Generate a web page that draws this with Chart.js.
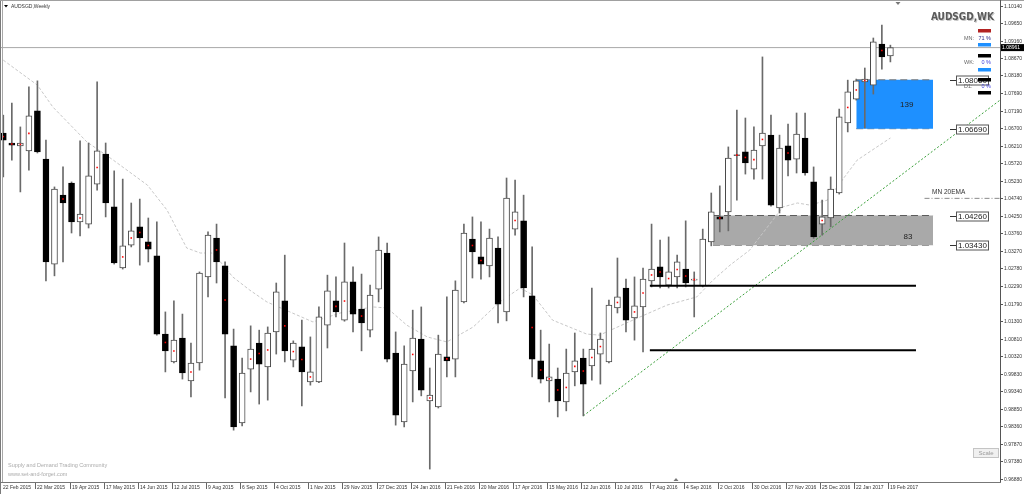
<!DOCTYPE html>
<html>
<head>
<meta charset="utf-8">
<script src="https://cdn.jsdelivr.net/npm/chart.js@4.4.1/dist/chart.umd.min.js"></script>
<style>
html, body { margin: 0; padding: 0; background: #fff; overflow: hidden; }
canvas { display: block; }
</style>
</head>
<body>
<canvas id="chart" width="1024" height="494"></canvas>
<script>
// weekly AUDSGD candles, 22 Feb 2015 .. 19 Feb 2017 (105 weeks)
const opens = [1.0657,1.0629,1.0621,1.0607,1.0719,1.0584,1.0290,1.0483,1.0517,1.0408,
  1.0402,1.0514,1.0598,1.0450,1.0279,1.0343,1.0394,1.0352,1.0313,1.0094,
  1.0016,1.0083,0.9963,1.0013,1.0254,1.0363,1.0285,1.0061,0.9845,0.9996,
  1.0069,1.0002,1.0100,1.0187,1.0021,1.0058,0.9960,0.9960,1.0119,1.0187,
  1.0133,1.0240,1.0164,1.0105,1.0220,1.0321,1.0041,0.9848,0.9991,1.0080,
  0.9907,0.9890,1.0030,1.0024,1.0184,1.0360,1.0310,1.0285,1.0335,1.0156,
  1.0388,1.0411,1.0201,1.0019,0.9963,0.9968,0.9904,0.9988,1.0027,1.0005,
  1.0038,1.0016,1.0167,1.0223,1.0139,1.0170,1.0243,1.0282,1.0231,1.0254,
  1.0276,1.0245,1.0229,1.0352,1.0422,1.0436,1.0596,1.0604,1.0556,1.0621,
  1.0651,1.0447,1.0621,1.0584,1.0643,1.0520,1.0402,1.0419,1.0489,1.0685,
  1.0752,1.0800,1.0791,1.0906,1.0873];
const highs = [1.0707,1.0741,1.0674,1.0786,1.0803,1.0637,1.0506,1.0562,1.0520,1.0635,
  1.0629,1.0800,1.0629,1.0551,1.0528,1.0461,1.0472,1.0419,1.0408,1.0156,
  1.0187,1.0150,1.0069,1.0268,1.0380,1.0402,1.0296,1.0108,1.0027,1.0117,
  1.0105,1.0114,1.0237,1.0315,1.0075,1.0133,1.0086,1.0170,1.0259,1.0254,
  1.0349,1.0282,1.0262,1.0231,1.0366,1.0349,1.0100,1.0061,1.0161,1.0170,
  0.9999,1.0091,1.0198,1.0243,1.0402,1.0422,1.0408,1.0388,1.0366,1.0531,
  1.0525,1.0483,1.0338,1.0105,1.0066,0.9999,1.0052,1.0097,1.0052,1.0223,
  1.0097,1.0189,1.0307,1.0248,1.0254,1.0279,1.0402,1.0357,1.0366,1.0315,
  1.0411,1.0268,1.0388,1.0489,1.0509,1.0618,1.0721,1.0699,1.0674,1.0870,
  1.0707,1.0651,1.0682,1.0713,1.0713,1.0562,1.0469,1.0534,1.0724,1.0805,
  1.0808,1.0839,1.0923,1.0959,1.0903];
const lows = [1.0534,1.0581,1.0492,1.0553,1.0601,1.0243,1.0257,1.0296,1.0377,1.0369,
  1.0391,1.0497,1.0422,1.0290,1.0276,1.0338,1.0287,1.0296,1.0091,0.9988,
  1.0013,0.9968,0.9918,0.9993,1.0198,1.0237,0.9915,0.9825,0.9837,0.9932,
  0.9898,0.9909,1.0038,1.0016,1.0002,0.9893,0.9951,0.9958,1.0055,1.0142,
  1.0130,1.0100,1.0047,1.0086,1.0184,1.0016,0.9839,0.9834,0.9904,0.9921,
  0.9716,0.9887,0.9974,0.9974,1.0181,1.0251,1.0248,1.0254,1.0125,1.0131,
  1.0371,1.0198,0.9974,0.9957,0.9904,0.9862,0.9879,0.9949,0.9865,0.9965,
  0.9954,1.0013,1.0153,1.0100,1.0077,1.0044,1.0226,1.0223,1.0223,1.0223,
  1.0226,1.0142,1.0226,1.0341,1.0380,1.0383,1.0469,1.0542,1.0528,1.0528,
  1.0452,1.0433,1.0537,1.0545,1.0539,1.0362,1.0371,1.0394,1.0486,1.0660,
  1.0749,1.0671,1.0766,1.0836,1.0856];
const closes = [1.0637,1.0623,1.0629,1.0705,1.0604,1.0296,1.0500,1.0461,1.0408,1.0430,
  1.0537,1.0607,1.0461,1.0293,1.0341,1.0383,1.0363,1.0332,1.0094,1.0047,
  1.0077,0.9985,1.0013,1.0265,1.0371,1.0296,1.0094,0.9834,0.9985,1.0052,
  1.0010,1.0097,1.0212,1.0047,1.0069,0.9988,0.9988,1.0142,1.0215,1.0156,
  1.0240,1.0150,1.0125,1.0203,1.0329,1.0024,0.9867,1.0010,1.0083,0.9937,
  0.9923,1.0038,1.0019,1.0217,1.0377,1.0324,1.0290,1.0363,1.0178,1.0475,
  1.0436,1.0223,1.0024,0.9968,0.9974,0.9907,0.9985,1.0019,0.9954,1.0052,
  1.0080,1.0175,1.0198,1.0133,1.0173,1.0248,1.0276,1.0254,1.0268,1.0296,
  1.0237,1.0248,1.0360,1.0436,1.0416,1.0587,1.0594,1.0573,1.0609,1.0657,
  1.0455,1.0615,1.0581,1.0654,1.0545,1.0366,1.0422,1.0500,1.0702,1.0772,
  1.0803,1.0808,1.0912,1.0870,1.0896];

// time axis labels, one every 4 weeks
const dateLabels = ['22 Feb 2015','22 Mar 2015','19 Apr 2015','17 May 2015','14 Jun 2015','12 Jul 2015',
  '9 Aug 2015','6 Sep 2015','4 Oct 2015','1 Nov 2015','29 Nov 2015','27 Dec 2015','24 Jan 2016',
  '21 Feb 2016','20 Mar 2016','17 Apr 2016','15 May 2016','12 Jun 2016','10 Jul 2016','7 Aug 2016',
  '4 Sep 2016','2 Oct 2016','30 Oct 2016','27 Nov 2016','25 Dec 2016','22 Jan 2017','19 Feb 2017'];
const priceTicks = ['1.10140','1.09650','1.09160','1.08670','1.08180','1.07690','1.07190','1.06700',
  '1.06210','1.05720','1.05230','1.04740','1.04250','1.03760','1.03270','1.02780','1.02290','1.01790',
  '1.01300','1.00810','1.00320','0.99830','0.99340','0.98850','0.98360','0.97870','0.97380','0.96880'];

// bars carrying the small red mid-body marker
const redDotIdx = [0,1,2,3,7,9,11,14,15,16,17,19,20,22,25,26,29,30,31,33,34,35,36,39,40,42,48,50,52,
  55,56,60,62,63,64,65,66,67,68,69,70,72,74,75,76,77,78,79,80,81,84,86,87,88,89,92,96,99,100,101,103];

// monthly 20 EMA as plotted on the weekly chart
const maIdx = [0,4,5.8,9.8,12.9,16.9,19.2,21.5,23.1,24.6,26.9,28.9,30.9,36.3,39.5,43.3,45,47.3,49.7,
  52,55.1,58.2,60.6,62.1,64.4,68.4,69.9,73.8,77.8,81.3,83.2,85.2,87.5,91.4,93.1,94.6,96.6,100.1,104];
const maVal = [1.0861,1.0791,1.0730,1.0632,1.0581,1.0511,1.0441,1.0335,1.0321,1.0321,1.0254,1.0217,
  1.0184,1.0128,1.0153,1.0170,1.0167,1.0119,1.0086,1.0072,1.0114,1.0184,1.0223,1.0203,1.0133,1.0094,
  1.0091,1.0133,1.0175,1.0198,1.0245,1.0287,1.0329,1.0450,1.0461,1.0455,1.0469,1.0581,1.0643];

const trendIdx = [68, 116.85];
const trendVal = [0.9865, 1.0749];
const supportIdx = [75.8, 107];
const supportVals = [1.0229, 1.0049];
const supplyZone = [100, 109, 1.08060, 1.06690];   // from, to, top, bottom
const demandZone = [83.2, 109, 1.04260, 1.03430];
const zoneTexts = ['139', '83'];
const zoneLabels = ['1.08060', '1.06690', '1.04260', '1.03430'];
const lastPrice = 1.08961;
const mnEmaLevel = 1.0474;

const xMin = -0.387, xMax = 116.85;
const yMin = 0.96798, yMax = 1.10294;

let wicks = [], bull = [], bear = [];
opens.forEach((o, i) => {
    wicks.push({x: i, y: [lows[i], highs[i]]});
    if (closes[i] >= o) bull.push({x: i, y: [o, closes[i]]});
    else bear.push({x: i, y: [closes[i], o]});
});
const dots = redDotIdx.map(i => ({x: i, y: (opens[i] + closes[i]) / 2}));
const seg = (x0, x1, v0, v1) => [{x: x0, y: v0}, {x: x1, y: v1}];
const flat = {type: 'line', pointRadius: 0, borderWidth: 1, fill: false};

const deco = {
    id: 'deco',
    beforeDraw(chart) {
        const c = chart.ctx;
        c.save();
        c.fillStyle = '#fff';
        c.fillRect(0, 0, chart.width, chart.height);
        c.restore();
    },
    afterDraw(chart) {
        const c = chart.ctx, xs = chart.scales.x, ys = chart.scales.y, a = chart.chartArea;
        const font = (s, b) => (b ? 'bold ' : '') + s + 'px "Liberation Sans", Arial, sans-serif';
        const hline = (x0, x1, y, col, w) => {
            c.strokeStyle = col; c.lineWidth = w || 1;
            c.beginPath(); c.moveTo(x0, y); c.lineTo(x1, y); c.stroke();
        };
        const vline = (x, y0, y1, col) => {
            c.strokeStyle = col; c.lineWidth = 1;
            c.beginPath(); c.moveTo(x, y0); c.lineTo(x, y1); c.stroke();
        };
        c.save();
        // frame
        vline(0.5, 0, 494, '#7a7a7a');
        vline(2.5, 0, a.bottom, '#a8a8a8');
        hline(0, 1024, 0.5, '#a0a0a0');
        vline(a.right + 0.5, 0, a.bottom + 1, '#555');
        hline(0, a.right + 1, a.bottom + 0.5, '#777');

        // price axis
        c.font = font(5);
        c.fillStyle = '#333';
        c.textBaseline = 'middle';
        c.textAlign = 'left';
        priceTicks.forEach(t => {
            const py = Math.round(ys.getPixelForValue(+t)) + 0.5;
            hline(a.right, a.right + 3, py, '#555');
            c.fillText(t, a.right + 4, py);
        });
        // time axis
        dateLabels.forEach((t, i) => {
            const px = Math.round(xs.getPixelForValue(i * 4)) - 1.5;
            if (px > 2) vline(px, a.bottom + 1, a.bottom + 7, '#666');
            c.fillStyle = '#333';
            c.fillText(t, px + 1.5, a.bottom + 5.5);
        });

        // last price box
        const lp = ys.getPixelForValue(lastPrice);
        c.fillStyle = '#000';
        c.fillRect(a.right + 1, lp - 3.5, 23, 7);
        c.fillStyle = '#fff';
        c.fillText(lastPrice.toFixed(5), a.right + 2, lp);

        // zone price labels
        c.font = font(8);
        zoneLabels.forEach(t => {
            const py = Math.round(ys.getPixelForValue(+t)) + 0.5;
            hline(950, 956, py, '#333');
            c.fillStyle = '#fff';
            c.fillRect(956, py - 4.5, 33, 9);
            c.strokeStyle = '#555';
            c.strokeRect(956.5, py - 4.5, 32, 9);
            c.fillStyle = '#222';
            c.fillText(t, 958, py + 0.5);
        });
        // zone counters
        c.textAlign = 'center';
        c.fillStyle = '#222';
        c.fillText(zoneTexts[0], xs.getPixelForValue((supplyZone[0] + supplyZone[1]) / 2) + 12,
            ys.getPixelForValue((supplyZone[2] + supplyZone[3]) / 2) + 1);
        c.fillText(zoneTexts[1], xs.getPixelForValue((demandZone[0] + demandZone[1]) / 2) + 85,
            ys.getPixelForValue(demandZone[3]) - 8);
        c.textAlign = 'left';

        // MN 20EMA tag
        c.font = font(6.5);
        c.fillStyle = '#333';
        c.fillText('MN 20EMA', 932, ys.getPixelForValue(mnEmaLevel) - 6);

        // symbol badge
        c.textAlign = 'right';
        c.font = font(10, true).replace('"Liberation Sans"', '"Liberation Sans Narrow", "DejaVu Sans Condensed"');
        c.fillStyle = '#c8c8c8';
        c.fillText('AUDSGD,WK', 995, 18.5);
        c.fillStyle = '#5a5a5a';
        c.fillText('AUDSGD,WK', 994, 17.5);

        // strength panel
        const bar = (y, col) => { c.fillStyle = col; c.fillRect(978, y, 13, 3.5); };
        bar(29, '#b22222'); bar(43, '#1e90ff'); bar(54, '#000');
        bar(68, '#1e90ff'); bar(78, '#000'); bar(91, '#000');
        c.font = font(5.5);
        c.textAlign = 'left';
        [['MN:', '71 %', 38, '#2a2a8a'], ['WK:', '0 %', 62, '#3b3bdc'], ['D1:', '0 %', 86, '#3b3bdc']].forEach(r => {
            c.fillStyle = '#666';
            c.fillText(r[0], 964, r[2]);
            c.fillStyle = r[3];
            c.textAlign = 'right';
            c.fillText(r[1], 991, r[2]);
            c.textAlign = 'left';
        });

        // title
        c.fillStyle = '#000';
        c.beginPath(); c.moveTo(4, 5); c.lineTo(8, 5); c.lineTo(6, 7.5); c.closePath(); c.fill();
        c.font = font(5);
        c.fillStyle = '#333';
        c.fillText('AUDSGD,Weekly', 11, 6.5);

        // shift markers
        c.fillStyle = '#777';
        c.beginPath(); c.moveTo(895.5, 2); c.lineTo(900.5, 2); c.lineTo(898, 5); c.closePath(); c.fill();
        c.beginPath(); c.moveTo(673.5, 481); c.lineTo(678.5, 481); c.lineTo(676, 478); c.closePath(); c.fill();

        // watermark
        c.font = font(5.5);
        c.fillStyle = '#ababab';
        c.fillText('Supply and Demand Trading Community', 8, 465);
        c.fillText('www.set-and-forget.com', 8, 474);

        // scale button
        c.fillStyle = '#f0f0f0';
        c.fillRect(973, 448, 26, 9);
        c.strokeStyle = '#c4c4c4';
        c.strokeRect(973.5, 448.5, 25, 9);
        c.font = font(6);
        c.fillStyle = '#9a9a9a';
        c.textAlign = 'center';
        c.fillText('Scale', 986, 453.5);
        c.restore();
    }
};

new Chart(document.getElementById('chart'), {
    type: 'bar',
    data: {
        datasets: [
            {...flat, data: seg(supplyZone[0], supplyZone[1], supplyZone[2], supplyZone[2]), borderColor: '#777',
                borderDash: [7, 4], backgroundColor: '#1e90ff', fill: '+1', order: 20},
            {...flat, data: seg(supplyZone[0], supplyZone[1], supplyZone[3], supplyZone[3]), borderColor: '#777',
                borderDash: [7, 4], order: 20},
            {...flat, data: seg(demandZone[0], demandZone[1], demandZone[2], demandZone[2]), borderColor: '#5c5c5c',
                borderDash: [7, 4], backgroundColor: '#a9a9a9', fill: '+1', order: 20},
            {...flat, data: seg(demandZone[0], demandZone[1], demandZone[3], demandZone[3]), borderColor: '#5c5c5c',
                borderDash: [7, 4], order: 20},
            {...flat, data: seg(xMin, xMax, lastPrice, lastPrice), borderColor: '#a8a8a8', order: 15},
            {...flat, data: maIdx.map((v, i) => ({x: v, y: maVal[i]})), borderColor: '#c8c8c8',
                borderDash: [3, 2], order: 12},
            {...flat, data: seg(trendIdx[0], trendIdx[1], trendVal[0], trendVal[1]), borderColor: '#3aa03a',
                borderDash: [2, 2], order: 11},
            {...flat, data: seg(108, xMax, mnEmaLevel, mnEmaLevel), borderColor: '#8a8a8a',
                borderDash: [5, 2, 1, 2], order: 11},
            {data: wicks, backgroundColor: '#6a6a6a', barThickness: 1, grouped: false, order: 4},
            {data: bull, backgroundColor: '#fff', borderColor: '#4a4a4a', borderWidth: 1,
                borderSkipped: false, barThickness: 6, grouped: false, order: 3},
            {data: bear, backgroundColor: '#000', borderColor: '#000', borderWidth: 1,
                borderSkipped: false, barThickness: 6, grouped: false, order: 3},
            {type: 'line', data: dots, showLine: false, pointStyle: 'rect', pointRadius: 1.1,
                pointBackgroundColor: '#ff0000', pointBorderWidth: 0, order: 2},
            {...flat, data: seg(supportIdx[0], supportIdx[1], supportVals[0], supportVals[0]), borderColor: '#000',
                borderWidth: 2, order: 1},
            {...flat, data: seg(supportIdx[0], supportIdx[1], supportVals[1], supportVals[1]), borderColor: '#000',
                borderWidth: 2, order: 1}
        ]
    },
    options: {
        responsive: false,
        devicePixelRatio: 1,
        animation: false,
        layout: {autoPadding: false, padding: {left: 0, top: 0, right: 24, bottom: 12}},
        plugins: {legend: {display: false}, tooltip: {enabled: false}},
        scales: {
            x: {type: 'linear', min: xMin, max: xMax, offset: false, display: false},
            y: {type: 'linear', min: yMin, max: yMax, display: false}
        }
    },
    plugins: [deco]
});
</script>
</body>
</html>
